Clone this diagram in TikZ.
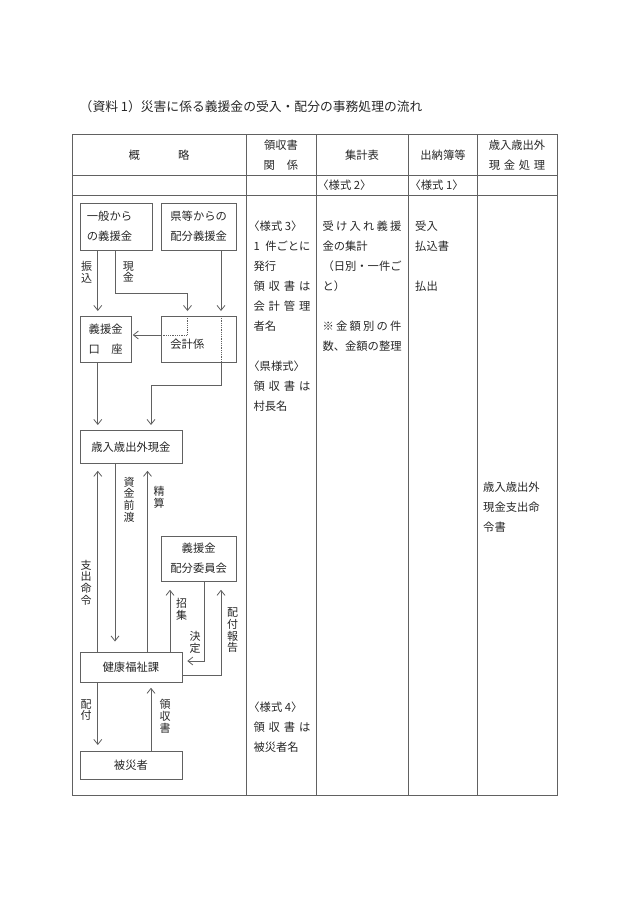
\documentclass[tikz,border=0pt]{standalone}
\usepackage{fontspec}
\setmainfont{Noto Sans CJK JP}
\usetikzlibrary{arrows.meta}
\definecolor{ln}{gray}{0.38}
\definecolor{tx}{gray}{0.15}
\newcommand\colblock[1]{\vtop{\baselineskip=20pt\lineskiplimit=-30pt\lineskip=0pt\halign{##\hfil\cr#1\crcr}}}
\newcommand\vstack[1]{\vtop{\baselineskip=11.7pt\lineskiplimit=-30pt\lineskip=0pt\halign{\hfil##\hfil\cr#1\crcr}}}
\newcommand\jus[2]{\hbox to #1{#2}}
\begin{document}
\begin{tikzpicture}[x=1pt,y=-1pt,
  every node/.style={text=tx},
  txt/.style={inner sep=0pt,font=\fontsize{11.3}{20}\selectfont,text height=0.88em,text depth=0.12em},
  blk/.style={inner sep=0pt,font=\fontsize{11.3}{20}\selectfont,anchor=base west},
  box/.style={draw=ln,line width=0.8pt,inner sep=0pt,anchor=north west,align=center,font=\fontsize{11.3}{20}\selectfont},
  arr/.style={draw=ln,line width=0.8pt,-{Straight Barb[length=5pt,width=8pt]}},
  dot/.style={draw=ln,line width=0.8pt,densely dotted},
  vlab/.style={inner sep=0pt,font=\fontsize{11}{11.7}\selectfont},
  grid/.style={draw=ln,line width=0.8pt}]
\useasboundingbox (0,0) rectangle (630,903);

% title
\node[anchor=base west,inner sep=0pt,font=\fontsize{12.8}{15}\selectfont] (title) at (79.5,111.5) {（資料 1）災害に係る義援金の受入・配分の事務処理の流れ};

% table
\draw[grid] (72.5,134.5) rectangle (557.5,795.5);
\draw[grid] (72.5,175) -- (557.5,175);
\draw[grid] (72.5,195.5) -- (557.5,195.5);
\foreach \x in {246,316,408.5,477} \draw[grid] (\x,134.5) -- (\x,795.5);

% header
\node[txt] (h1) at (159,156) {概\hspace{38pt}略};
\node[txt] (h2a) at (281,146) {領収書};
\node[txt] (h2b) at (281,166) {関\hspace{12pt}係};
\node[txt] (h3) at (362,155.5) {集計表};
\node[txt] (h4) at (443,155.5) {出納簿等};
\node[txt] (h5a) at (517,146) {歳入歳出外};
\node[txt] (h5b) at (517,166) {\jus{56.5pt}{現\hfil 金\hfil 処\hfil 理}};
\node[blk] (s2) at (322.3,189.8) {\kern-.45em〈様式 2〉};
\node[blk] (s1) at (414.5,189.8) {\kern-.45em〈様式 1〉};

% column texts
\node[blk] (c2a) at (253.3,230.3) {\colblock{%
\kern-.45em〈様式 3〉\cr
\jus{57pt}{1\hfil 件ごとに}\cr
発行\cr
\jus{57pt}{領\hfil 収\hfil 書\hfil は}\cr
\jus{57pt}{会\hfil 計\hfil 管\hfil 理}\cr
者名\cr
\cr
\kern-.45em〈県様式〉\cr
\jus{57pt}{領\hfil 収\hfil 書\hfil は}\cr
村長名}};
\node[blk] (c2b) at (253.3,711) {\colblock{%
\kern-.45em〈様式 4〉\cr
\jus{57pt}{領\hfil 収\hfil 書\hfil は}\cr
被災者名}};
\node[blk] (c3) at (322.3,230.3) {\colblock{%
\jus{79pt}{受\hfil け\hfil 入\hfil れ\hfil 義\hfil 援}\cr
金の集計\cr
（日別・一件ご\cr
と）\cr
\cr
\jus{79pt}{※\hfil 金\hfil 額\hfil 別\hfil の\hfil 件}\cr
数、金額の整理}};
\node[blk] (c4) at (415,230.3) {\colblock{%
受入\cr
払込書\cr
\cr
払出}};
\node[blk] (c5) at (483,491) {\colblock{%
歳入歳出外\cr
現金支出命\cr
令書}};

% diagram boxes
\node[box,minimum width=72pt,minimum height=46.5pt,text width=58pt,align=left] (ippan) at (79.5,203) {一般から\\の義援金};
\node[box,minimum width=75.5pt,minimum height=46.5pt] (ken) at (160.5,203) {県等からの\\配分義援金};
\node[box,minimum width=51.5pt,minimum height=45.5pt] (koza) at (79.5,316) {義援金\\口\hspace{1em}座};
\node[box,minimum width=75.5pt,minimum height=45.5pt,text width=56.5pt,align=left] (kaikei) at (160.5,316) {\mbox{}\\会計係};
\node[box,minimum width=102pt,minimum height=33pt] (saigai) at (79.5,430) {歳入歳出外現金};
\node[box,minimum width=75.5pt,minimum height=45.5pt] (iinkai) at (160.5,535.5) {義援金\\配分委員会};
\node[box,minimum width=102pt,minimum height=30pt] (kenko) at (79.5,651.5) {健康福祉課};
\node[box,minimum width=102pt,minimum height=27.5pt] (hisai) at (79.5,751) {被災者};

% helper coordinates
\coordinate (c98) at (97.8,0);
\coordinate (c115) at (115,0);
\coordinate (c147) at (147.5,0);
\coordinate (c151) at (151,0);
\coordinate (c170) at (170,0);
\coordinate (c187) at (187.5,0);
\coordinate (c204) at (204.3,0);
\coordinate (c221) at (221,0);
\coordinate (r293) at (0,293.3);
\coordinate (r335) at (0,335);
\coordinate (r386) at (0,385.7);
\coordinate (r661) at (0,661);
\coordinate (r675) at (0,675);

% connectors
\draw[arr,shorten >=5pt] (ippan.south -| c98) -- (koza.north -| c98);
\draw[arr,shorten >=5pt] (ippan.south -| c115) |- (r293 -| c187) -- (kaikei.north -| c187);
\draw[dot] (kaikei.north -| c187) |- (kaikei.west |- r335);
\draw[arr,shorten >=1pt] (kaikei.west |- r335) -- (koza.east |- r335);
\draw[arr,shorten >=5pt] (ken.south -| c221) -- (kaikei.north -| c221);
\draw[dot] (kaikei.north -| c221) -- (kaikei.south -| c221);
\draw[arr,shorten >=5pt] (kaikei.south -| c221) |- (r386 -| c151) -- (saigai.north -| c151);
\draw[arr,shorten >=5pt] (koza.south -| c98) -- (saigai.north -| c98);
\draw[arr,shorten >=7pt] (kenko.north -| c98) -- (saigai.south -| c98);
\draw[arr,shorten >=10pt] (saigai.south -| c115) -- (kenko.north -| c115);
\draw[arr,shorten >=7pt] (kenko.north -| c147) -- (saigai.south -| c147);
\draw[arr,shorten >=8pt] (kenko.north -| c170) -- (iinkai.south -| c170);
\draw[arr,shorten >=5pt] (iinkai.south -| c204) |- (kenko.east |- r661);
\draw[arr,shorten >=8pt] (kenko.east |- r675) -| (iinkai.south -| c221);
\draw[arr,shorten >=6pt] (kenko.south -| c98) -- (hisai.north -| c98);
\draw[arr,shorten >=5.5pt] (hisai.north -| c151) -- (kenko.south -| c151);

% vertical labels
\node[vlab] (lfuri) at (86.7,272) {\vstack{振\cr 込}};
\node[vlab] (lgen) at (128.3,272) {\vstack{現\cr 金}};
\node[vlab] (lshi) at (86,582.5) {\vstack{支\cr 出\cr 命\cr 令}};
\node[vlab] (lshikin) at (129,499.5) {\vstack{資\cr 金\cr 前\cr 渡}};
\node[vlab] (lsei) at (159,497.5) {\vstack{精\cr 算}};
\node[vlab] (lsho) at (181.7,609) {\vstack{招\cr 集}};
\node[vlab] (lket) at (195,642) {\vstack{決\cr 定}};
\node[vlab] (lhok) at (232.5,630.5) {\vstack{配\cr 付\cr 報\cr 告}};
\node[vlab] (lhai) at (86,710) {\vstack{配\cr 付}};
\node[vlab] (lryo) at (165,716.5) {\vstack{領\cr 収\cr 書}};
\end{tikzpicture}
\end{document}
